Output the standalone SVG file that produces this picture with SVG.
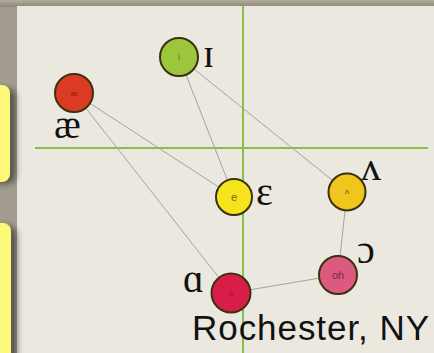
<svg xmlns="http://www.w3.org/2000/svg" width="434" height="353" viewBox="0 0 434 353">
  <defs>
    <filter id="soft" x="-50%" y="-20%" width="200%" height="140%">
      <feGaussianBlur stdDeviation="3"/>
    </filter>
    <linearGradient id="frameGrad" x1="0" y1="0" x2="1" y2="0">
      <stop offset="0" stop-color="#a29d90"/>
      <stop offset="1" stop-color="#7f7a6e"/>
    </linearGradient>
    <linearGradient id="topGrad" x1="0" y1="0" x2="0" y2="1">
      <stop offset="0" stop-color="#b3ad9f"/>
      <stop offset="1" stop-color="#8d877a"/>
    </linearGradient>
    <style>
      .axis { stroke: #8bbd4a; stroke-width: 2; fill: none; }
      .link { stroke: #a3a39f; stroke-width: 1; fill: none; }
      .node { stroke: #3b3010; stroke-width: 2; }
      .ipa { font-family: "Liberation Serif", "DejaVu Serif", serif; font-size: 40px; fill: #111; }
      .tag { font-family: "Liberation Sans", Arial, sans-serif; text-anchor: middle; }
      .place { font-family: "Liberation Sans", Arial, sans-serif; font-size: 35px; fill: #111; }
    </style>
  </defs>

  <!-- frame behind the paper -->
  <rect x="0" y="0" width="434" height="353" fill="url(#frameGrad)"/>
  <rect x="0" y="0" width="434" height="7" fill="url(#topGrad)"/>

  <!-- paper sheet -->
  <rect x="17" y="6" width="417" height="347" fill="#ebe8e0"/>

  <!-- yellow tabs on the left edge, with shadow -->
  <g id="tabs">
    <rect x="-10" y="88" width="26" height="96" rx="9" fill="#2a2820" opacity="0.6" filter="url(#soft)"/>
    <rect x="-10" y="226" width="27" height="140" rx="9" fill="#2a2820" opacity="0.6" filter="url(#soft)"/>
    <rect x="-10" y="85" width="20" height="97" rx="8" fill="#fdf97b"/>
    <rect x="-10" y="223" width="21" height="140" rx="8" fill="#fdf97b"/>
  </g>

  <!-- axes -->
  <g id="axes">
    <line class="axis" x1="35" y1="148" x2="428" y2="148"/>
    <line class="axis" x1="243" y1="6" x2="243" y2="353"/>
  </g>

  <!-- connectors -->
  <g id="connectors">
    <line class="link" x1="74" y1="93" x2="234" y2="197"/>
    <line class="link" x1="74" y1="93" x2="231" y2="293"/>
    <line class="link" x1="179" y1="57" x2="234" y2="197"/>
    <line class="link" x1="179" y1="57" x2="347" y2="192"/>
    <line class="link" x1="347" y1="192" x2="338" y2="275"/>
    <line class="link" x1="338" y1="275" x2="231" y2="293"/>
  </g>

  <!-- vowel nodes -->
  <g id="node-ae">
    <circle class="node" cx="74" cy="93" r="19" fill="#dc3a22"/>
    <text class="tag" x="74" y="96" font-size="8" fill="#8e2012">æ</text>
    <text class="ipa" x="54" y="138">æ</text>
  </g>
  <g id="node-i">
    <circle class="node" cx="179" cy="57" r="19" fill="#9cc63c"/>
    <text class="tag" x="179" y="60" font-size="9" fill="#5d6a18">i</text>
    <text class="ipa" x="203" y="67">ɪ</text>
  </g>
  <g id="node-e">
    <circle class="node" cx="234" cy="197" r="18" fill="#f5e31c"/>
    <text class="tag" x="234" y="201" font-size="11" fill="#6e6a12">e</text>
    <text class="ipa" x="256" y="205">ɛ</text>
  </g>
  <g id="node-caret">
    <circle class="node" cx="347" cy="192" r="18.5" fill="#f0c51e"/>
    <text class="tag" x="347" y="198" font-size="10" fill="#6e5a10">^</text>
    <text class="ipa" x="361" y="180">ʌ</text>
  </g>
  <g id="node-oh">
    <circle class="node" cx="338" cy="275" r="19" fill="#dc5a80"/>
    <text class="tag" x="338" y="279" font-size="11" fill="#7a2a40">oh</text>
    <text class="ipa" x="357" y="263">ɔ</text>
  </g>
  <g id="node-o">
    <circle class="node" cx="231" cy="293" r="19.5" fill="#d81e48"/>
    <text class="tag" x="231" y="296" font-size="7" fill="#8a1530">o</text>
    <text class="ipa" x="183" y="292">ɑ</text>
  </g>

  <text class="place" x="192" y="340" textLength="237" lengthAdjust="spacing">Rochester, NY</text>
</svg>
